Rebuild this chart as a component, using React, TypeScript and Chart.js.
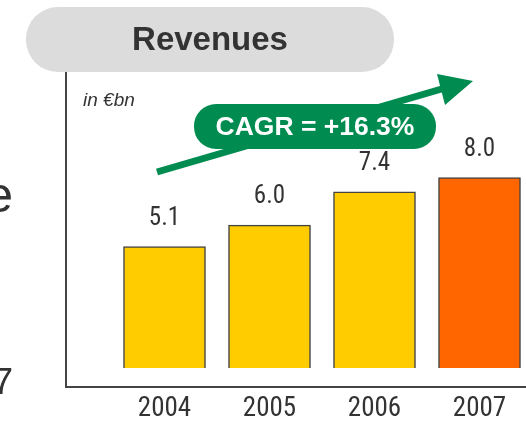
import React, { useEffect, useRef } from "react";
import { Chart, registerables } from "chart.js";

Chart.register(...registerables);

const categories = ["2004", "2005", "2006", "2007"];
const revenues = [5.1, 6.0, 7.4, 8.0];
const barColors = ["#FFCC00", "#FFCC00", "#FFCC00", "#FF6600"];
const valueLabels = ["5.1", "6.0", "7.4", "8.0"];
const title = "Revenues";
const unitLabel = "in €bn";
const cagrLabel = "CAGR = +16.3%";

const NARROW = "'Liberation Sans Narrow', 'Arial Narrow', 'Roboto Condensed', 'DejaVu Sans Condensed', sans-serif";
const SANS = "'Liberation Sans', Arial, sans-serif";

function roundRect(ctx: CanvasRenderingContext2D, x: number, y: number, w: number, h: number, r: number) {
  ctx.beginPath();
  ctx.moveTo(x + r, y);
  ctx.lineTo(x + w - r, y);
  ctx.arcTo(x + w, y, x + w, y + r, r);
  ctx.lineTo(x + w, y + h - r);
  ctx.arcTo(x + w, y + h, x + w - r, y + h, r);
  ctx.lineTo(x + r, y + h);
  ctx.arcTo(x, y + h, x, y + h - r, r);
  ctx.lineTo(x, y + r);
  ctx.arcTo(x, y, x + r, y, r);
  ctx.closePath();
}

const decorPlugin = {
  id: "decor",
  afterDatasetsDraw(chart: any) {
    const ctx: CanvasRenderingContext2D = chart.ctx;
    const meta = chart.getDatasetMeta(0);
    ctx.save();
    ctx.fillStyle = "#333";
    ctx.font = `25px ${NARROW}`;
    ctx.textAlign = "center";
    ctx.textBaseline = "middle";
    meta.data.forEach((bar: any, i: number) => {
      ctx.fillText(valueLabels[i], bar.x, bar.y - 28);
    });
    ctx.restore();
  },
  afterDraw(chart: any) {
    const ctx: CanvasRenderingContext2D = chart.ctx;
    ctx.save();
    // partial text on left edge
    ctx.fillStyle = "#333";
    ctx.textAlign = "right";
    ctx.textBaseline = "alphabetic";
    ctx.font = `50px ${SANS}`;
    ctx.fillText("e", 13, 212);
    ctx.font = `37px ${SANS}`;
    ctx.fillText("7", 13, 394);

    // title pill
    ctx.fillStyle = "#DCDCDC";
    roundRect(ctx, 26, 7, 368, 65, 32);
    ctx.fill();
    ctx.fillStyle = "#333";
    ctx.textAlign = "center";
    ctx.textBaseline = "middle";
    ctx.font = `bold 33px ${SANS}`;
    ctx.fillText(title, 210, 41);

    // unit
    ctx.textAlign = "left";
    ctx.font = `italic 19px ${SANS}`;
    ctx.fillText(unitLabel, 83, 101);

    // arrow
    const green = "#008C50";
    ctx.strokeStyle = green;
    ctx.lineWidth = 7;
    ctx.beginPath();
    ctx.moveTo(157, 172);
    ctx.lineTo(445, 88);
    ctx.stroke();
    ctx.fillStyle = green;
    ctx.beginPath();
    ctx.moveTo(437, 74);
    ctx.lineTo(473, 81);
    ctx.lineTo(445, 105);
    ctx.closePath();
    ctx.fill();

    // CAGR pill
    roundRect(ctx, 194, 104, 242, 45, 22);
    ctx.fill();
    ctx.fillStyle = "#FFFFFF";
    ctx.textAlign = "center";
    ctx.font = `bold 26.5px ${SANS}`;
    ctx.fillText(cagrLabel, 315, 128);
    ctx.restore();
  },
};

export default function App() {
  const ref = useRef<HTMLCanvasElement>(null);
  useEffect(() => {
    document.body.style.margin = "0";
    document.body.style.overflow = "hidden";
    const ppu = 23.8;
    const zeroY = 368;
    const top = 72;
    const bottom = 387;
    const xUnit = 105;
    const firstX = 164.5;
    const left = 66;
    const right = 526;
    const chart = new Chart(ref.current!, {
      type: "bar",
      data: {
        datasets: [
          {
            data: revenues.map((v, i) => ({ x: i, y: v })),
            backgroundColor: barColors,
            borderColor: "#444",
            borderWidth: 1.5,
            barThickness: 82,
          } as any,
        ],
      },
      options: {
        animation: false,
        responsive: false,
        devicePixelRatio: 1,
        layout: { padding: { left: left, top: top, right: 0, bottom: 0 } },
        plugins: { legend: { display: false }, tooltip: { enabled: false } },
        scales: {
          x: {
            type: "linear",
            offset: false,
            bounds: "data",
            min: -(firstX - left) / xUnit,
            max: (right - firstX) / xUnit,
            grid: { display: false, drawTicks: false, offset: false },
            border: { display: true, color: "#444", width: 2 },
            afterBuildTicks: (s: any) => {
              s.ticks = categories.map((_, i) => ({ value: i }));
            },
            afterFit: (s: any) => {
              s.height = 424 - bottom;
              s.paddingLeft = 0;
              s.paddingRight = 0;
            },
            ticks: {
              padding: 6,
              color: "#333",
              font: { family: NARROW, size: 27 },
              callback: (v: any) => categories[v] ?? "",
              autoSkip: false,
              maxRotation: 0,
            },
          },
          y: {
            min: -(bottom - zeroY) / ppu,
            max: (zeroY - top) / ppu,
            grid: { display: false, drawTicks: false },
            border: { display: true, color: "#444", width: 2 },
            ticks: { display: false },
            afterFit: (s: any) => {
              s.width = 0;
            },
          },
        },
      } as any,
      plugins: [decorPlugin],
    });
    return () => chart.destroy();
  }, []);
  return <canvas ref={ref} width={526} height={424} style={{ display: "block" }} />;
}
